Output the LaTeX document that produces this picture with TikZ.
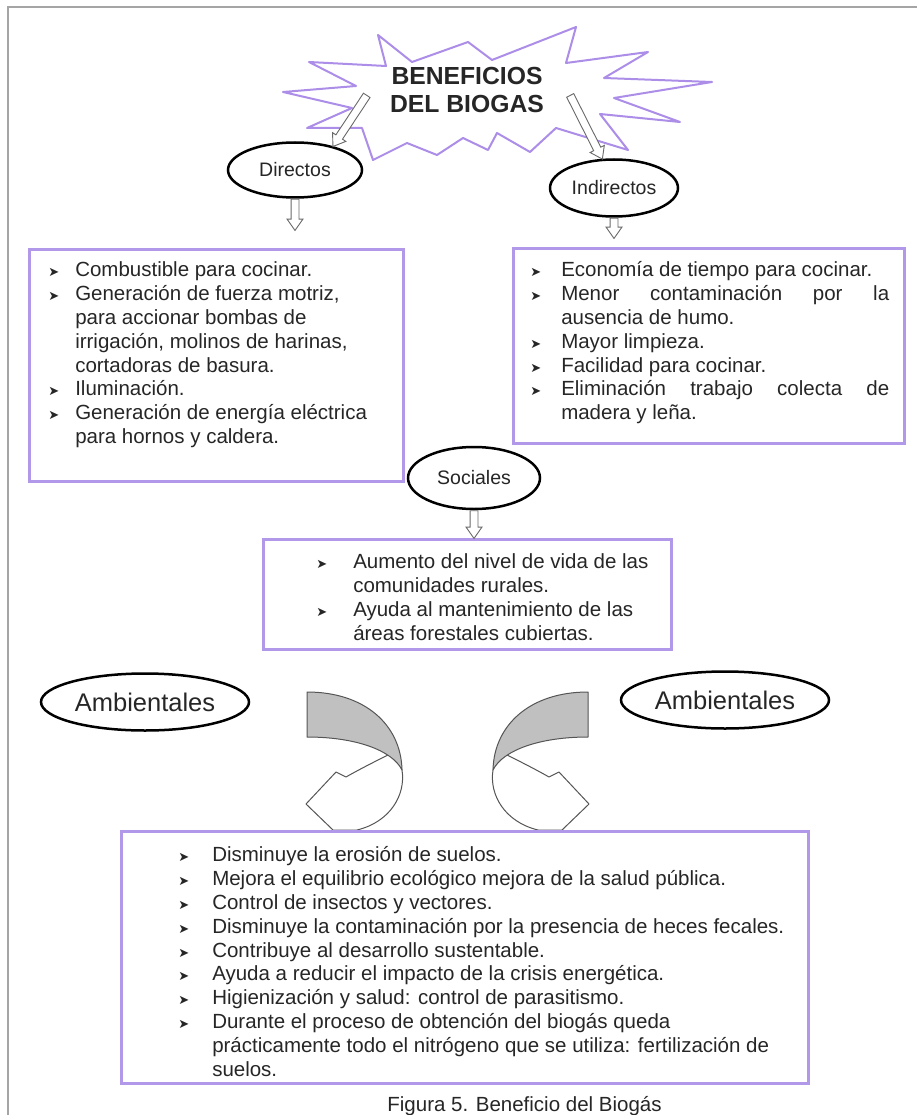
\documentclass[tikz,border=0pt]{standalone}
\usepackage{fontspec}
\setmainfont{Liberation Sans}
\newfontfamily\symfont{DejaVu Sans}
\usepackage{tikz}
\usetikzlibrary{calc,shapes.geometric,shapes.arrows}

\definecolor{boxpurple}{RGB}{178,152,232}
\definecolor{starpurple}{RGB}{172,142,232}
\definecolor{textgray}{RGB}{38,38,38}
\definecolor{arrowgray}{RGB}{105,105,105}
\definecolor{ribbongray}{RGB}{192,192,192}
\definecolor{ribbonline}{RGB}{85,85,85}
\definecolor{framegray}{RGB}{165,165,165}

\newlength{\itemgap}
\newcommand{\bodysize}{\fontsize{20.5}{23.8}\selectfont}
\newcommand{\bul}{{\symfont\fontsize{13}{13}\selectfont ➤}}
\newcommand{\itm}[1]{\par\hangindent=\itemgap\hangafter=1\noindent\makebox[\itemgap][l]{\bul}\strut#1\par}
% width, height, left pad, top pad, gap, items
\newcommand{\ragbox}[6]{\parbox[t][#2][t]{#1}{\raggedright\leftskip=#3\setlength{\itemgap}{#5}\vspace*{#4}#6}}
\newcommand{\justbox}[7]{\parbox[t][#2][t]{#1}{\leftskip=#3\rightskip=#6\setlength{\itemgap}{#5}\vspace*{#4}#7}}
\newcommand{\hollowarrow}[3]{
	\path let \p1=($(#2)-(#1)$), \n1={atan2(\y1,\x1)}, \n2={veclen(\x1,\y1)-#3} in
		node[hollowtip, rotate=\n1, minimum height=\n2, anchor=tail] at (#1) {};
}
\newcommand{\bentarrow}{
	\filldraw[ribbon, fill=white] (402,770) .. controls (406,795) and (390,822) .. (357,830) -- (333,830) -- (306,804) -- (336,772) -- (346,777) .. controls (360,769) and (376,761) .. (388,755) -- (396,748) -- cycle;
	\filldraw[ribbon, fill=ribbongray] (307,692) .. controls (365,692) and (401,725) .. (402,770) .. controls (392,750) and (355,737) .. (307,737) -- cycle;
}

\begin{document}
\begin{tikzpicture}[x=1pt,y=-1pt,
	listbox/.style={draw=boxpurple, line width=2.5pt, inner sep=0pt, anchor=north west, font=\bodysize, text=textgray},
	bubble/.style={ellipse, draw=black, line width=2.5pt, fill=white, inner sep=0pt, text=textgray, font=\fontsize{19.5}{21}\selectfont},
	hollowtip/.style={single arrow, draw=arrowgray, fill=white, line width=0.9pt, inner xsep=0pt, inner ysep=3.5pt, single arrow head extend=4pt, single arrow tip angle=70},
	ribbon/.style={draw=ribbonline, line width=1pt, line join=round}]
	\useasboundingbox (0,0) rectangle (917,1115);
	\draw[framegray, line width=1.8pt] (8,1115) -- (8,7) -- (917,7);

	% star
	\filldraw[draw=starpurple, fill=white, line width=2pt, line join=round] (378,35) -- (412,62) -- (468,42) -- (492,60) -- (576,27) -- (566,63) -- (648,52) -- (604,78) -- (712,82) -- (614,98) -- (680,122) -- (600,114) -- (628,150) -- (556,128) -- (530,152) -- (497,133) -- (488,150) -- (463,138) -- (437,155) -- (407,143) -- (373,160) -- (362,128) -- (307,128) -- (352,108) -- (283,92) -- (356,86) -- (309,62) -- (386,66) -- cycle;
	\node[align=center, inner sep=0pt, text=textgray, font=\fontsize{24.7}{28}\selectfont\bfseries] (title) at (467,90) {BENEFICIOS\\DEL BIOGAS};
	\coordinate (lfrom) at (367,95);
	\coordinate (rfrom) at (570,95);

	\node[bubble, minimum width=134pt, minimum height=55pt] (dir) at (295,170) {Directos};
	\node[bubble, minimum width=128pt, minimum height=57pt] (ind) at (614,188) {Indirectos};

	\hollowarrow{lfrom}{dir.32}{0}
	\hollowarrow{rfrom}{ind.112}{0}

	\node[listbox] (lbox) at (28,248) {\ragbox{374pt}{232pt}{19pt}{11pt}{27pt}{%
		\itm{Combustible para cocinar.}
		\itm{Generación de fuerza motriz,\newline para accionar bombas de\newline irrigación, molinos de harinas,\newline cortadoras de basura.}
		\itm{Iluminación.}
		\itm{Generación de energía eléctrica\newline para hornos y caldera.}}};
	\node[listbox] (rbox) at (512,247) {\justbox{391pt}{195pt}{17pt}{12pt}{31pt}{15pt}{%
		\itm{Economía de tiempo para cocinar.}
		\itm{Menor contaminación por la\linebreak ausencia de humo.}
		\itm{Mayor limpieza.}
		\itm{Facilidad para cocinar.}
		\itm{Eliminación trabajo colecta de\linebreak madera y leña.}}};

	\hollowarrow{dir.south}{dir.south |- lbox.north}{18}
	\hollowarrow{ind.south}{ind.south |- rbox.north}{9}

	\node[bubble, minimum width=132pt, minimum height=62pt] (soc) at (474,478) {Sociales};
	\node[listbox] (sbox) at (262,538) {\ragbox{408pt}{110pt}{53pt}{13pt}{37pt}{%
		\itm{Aumento del nivel de vida de las\newline comunidades rurales.}
		\itm{Ayuda al mantenimiento de las\newline áreas forestales cubiertas.}}};
	\hollowarrow{soc.south}{soc.south |- sbox.north}{0}

	\node[bubble, font=\fontsize{25.5}{28}\selectfont, minimum width=208pt, minimum height=57pt] (ambl) at (145,702) {Ambientales};
	\node[bubble, font=\fontsize{25.5}{28}\selectfont, minimum width=208pt, minimum height=57pt] (ambr) at (725,700) {Ambientales};

	\bentarrow
	\begin{scope}[xshift=895pt, xscale=-1]
		\bentarrow
	\end{scope}

	\node[listbox] (bbox) at (120,830) {\ragbox{687pt}{252pt}{57pt}{14pt}{34pt}{%
		\itm{Disminuye la erosión de suelos.}
		\itm{Mejora el equilibrio ecológico mejora de la salud pública.}
		\itm{Control de insectos y vectores.}
		\itm{Disminuye la contaminación por la presencia de heces fecales.}
		\itm{Contribuye al desarrollo sustentable.}
		\itm{Ayuda a reducir el impacto de la crisis energética.}
		\itm{Higienización y salud: control de parasitismo.}
		\itm{Durante el proceso de obtención del biogás queda\newline prácticamente todo el nitrógeno que se utiliza: fertilización de\newline suelos.}}};
	\node[anchor=base, inner sep=0pt, text=textgray, font=\bodysize] (cap) at (524.5,1111) {Figura 5. Beneficio del Biogás};
\end{tikzpicture}
\end{document}
